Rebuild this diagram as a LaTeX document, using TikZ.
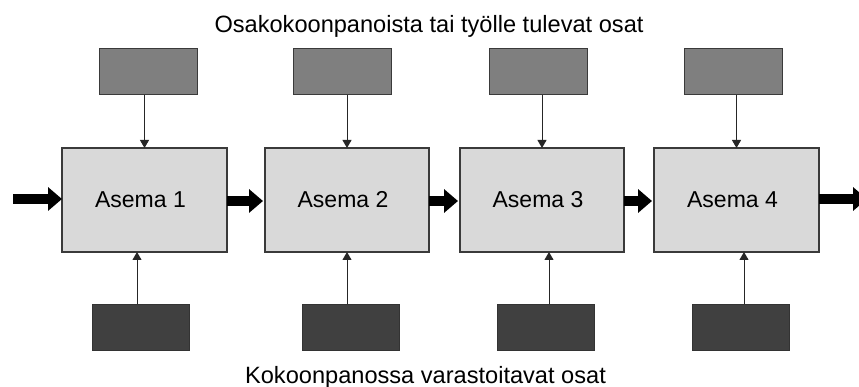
\documentclass[tikz,border=0pt]{standalone}
\usepackage{fontspec}
\setmainfont{Liberation Sans}
\usetikzlibrary{arrows.meta}
\definecolor{stfill}{HTML}{D9D9D9}
\definecolor{topfill}{HTML}{7F7F7F}
\definecolor{botfill}{HTML}{404040}
\definecolor{edge}{HTML}{3A3A3A}
\begin{document}
\begin{tikzpicture}[x=1pt,y=-1pt,
  station/.style={draw=edge,line width=1.2pt,fill=stfill,minimum width=165pt,minimum height=104pt,inner sep=0pt,outer sep=0pt,font=\fontsize{23}{27}\selectfont,execute at end node={\hspace*{8pt}}},
  topbox/.style={draw=edge,line width=1pt,fill=topfill,minimum width=98pt,minimum height=46pt,inner sep=0pt,outer sep=0pt},
  botbox/.style={draw=black!80,line width=1pt,fill=botfill,minimum width=97pt,minimum height=46pt,inner sep=0pt,outer sep=0pt},
  thin/.style={draw=black!85,line width=0.9pt,-{Triangle[length=8pt,width=9pt]}},
  flow/.style={draw=black,line width=10pt,-{Triangle[length=14pt,width=23pt]}},
  caption/.style={font=\fontsize{23.6}{28}\selectfont,anchor=base,inner sep=0pt}]
\useasboundingbox (0,0) rectangle (859,387);
\fill[white] (0,0) rectangle (859,387);
% stations
\node[station] (s1) at (144.5,200) {Asema 1};
\node[station,minimum width=164pt] (s2) at (347,200) {Asema 2};
\node[station,minimum width=164pt] (s3) at (542,200) {Asema 3};
\node[station] (s4) at (736.5,200) {Asema 4};
% top part boxes
\node[topbox] (t1) at (148,72) {};
\node[topbox] (t2) at (342,72) {};
\node[topbox] (t3) at (538,72) {};
\node[topbox] (t4) at (733,72) {};
% bottom part boxes
\node[botbox] (b1) at (140.5,327) {};
\node[botbox] (b2) at (350.5,327) {};
\node[botbox] (b3) at (545.5,327) {};
\node[botbox] (b4) at (740.5,327) {};
% captions
\node[caption] (top) at (429,33) {Osakokoonpanoista tai työlle tulevat osat};
\node[caption] (bot) at (425.5,383) {Kokoonpanossa varastoitavat osat};
% thin arrows from top boxes
\foreach \i in {1,2,3,4} {
  \draw[thin] (s\i.north |- t\i.south) -- (s\i.north);
}
% thin arrows from bottom boxes
\draw[thin] ([xshift=-3.5pt]b1.north) -- ([xshift=-3.5pt]b1.north |- s1.south);
\draw[thin] ([xshift=-3.5pt]b2.north) -- ([xshift=-3.5pt]b2.north |- s2.south);
\draw[thin] ([xshift=3.5pt]b3.north) -- ([xshift=3.5pt]b3.north |- s3.south);
\draw[thin] ([xshift=3.5pt]b4.north) -- ([xshift=3.5pt]b4.north |- s4.south);
% main flow
\coordinate (in) at (13,199);
\coordinate (out) at (867,199);
\draw[flow] (in) -- (in -| s1.west);
\draw[flow] ([yshift=-1pt]s1.east) -- ([yshift=-1pt,xshift=-2pt]s2.west);
\draw[flow] ([yshift=-1pt]s2.east) -- ([yshift=-1pt,xshift=-2pt]s3.west);
\draw[flow] ([yshift=-1pt]s3.east) -- ([yshift=-1pt,xshift=-2pt]s4.west);
\draw[flow] (out -| s4.east) -- (out);
\end{tikzpicture}
\end{document}
